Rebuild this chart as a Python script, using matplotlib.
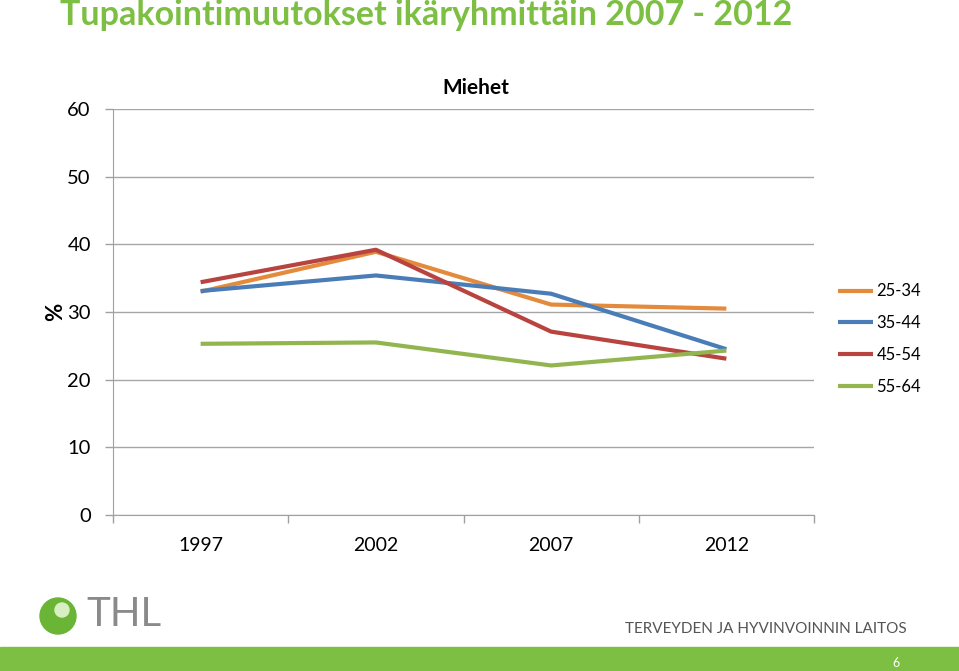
import matplotlib.pyplot as plt
from matplotlib.patches import Rectangle, Ellipse

# data
years = ['1997', '2002', '2007', '2012']
groups = ['25-34', '35-44', '45-54', '55-64']
age_25_34 = [33.0, 38.9, 31.1, 30.5]
age_35_44 = [33.1, 35.4, 32.7, 24.5]
age_45_54 = [34.4, 39.2, 27.1, 23.1]
age_55_64 = [25.3, 25.5, 22.1, 24.3]
colors = ['#E38A3C', '#4A7DB8', '#B8433F', '#93B550']

plt.rcParams['font.family'] = ['Lato', 'DejaVu Sans']

fig = plt.figure(figsize=(9.59, 6.71), dpi=100)
ax = fig.add_axes([113 / 959, 1 - 515 / 671, 701 / 959, 406 / 671])

series = [age_25_34, age_35_44, age_45_54, age_55_64]
x = range(len(years))
for vals, name, c in zip(series, groups, colors):
    ax.plot(x, vals, color=c, lw=3, label=name, solid_capstyle='butt')

ax.set_xlim(-0.5, 3.5)
ax.set_ylim(0, 60)
ax.set_yticks(range(0, 61, 10))
ax.tick_params(axis='y', labelsize=14.5, colors='#a0a0a0', labelcolor='black',
               length=6, width=1, pad=10)
ax.grid(axis='y', color='#a6a6a6', lw=1)
ax.set_axisbelow(True)

# category axis: ticks between categories, labels centred
ax.set_xticks([-0.5, 0.5, 1.5, 2.5, 3.5])
ax.set_xticklabels([])
ax.set_xticks(list(x), minor=True)
ax.set_xticklabels(years, minor=True, fontsize=14)
ax.tick_params(axis='x', which='major', direction='out', length=6,
               color='#a0a0a0', width=1)
ax.tick_params(axis='x', which='minor', length=0, pad=16)

for s in ['top', 'right']:
    ax.spines[s].set_visible(False)
for s in ['left', 'bottom']:
    ax.spines[s].set_color('#a0a0a0')

ax.set_ylabel('%', fontsize=16, fontweight='bold', labelpad=1)
fig.text(476 / 959, 1 - 88 / 671, 'Miehet', fontsize=15, fontweight='bold',
         ha='center', va='center')

ax.legend(loc='center left', bbox_to_anchor=(1.013, 0.433), frameon=False,
          fontsize=12, handlelength=2.1, handletextpad=0.2, labelspacing=0.95)

# slide title
fig.text(60 / 959, 1 - 15 / 671, 'Tupakointimuutokset ikäryhmittäin 2007 - 2012',
         color='#7CBF42', fontsize=24.5, fontweight='bold', va='center', ha='left')

# footer
fig.patches.append(Rectangle((0, 0), 1, 24 / 671, transform=fig.transFigure,
                             color='#7CBF42', zorder=0))
fig.text(896 / 959, 1 - 663 / 671, '6', color='white', fontsize=9,
         ha='center', va='center')
fig.text(907 / 959, 1 - 629 / 671, 'TERVEYDEN JA HYVINVOINNIN LAITOS',
         color='#555555', fontsize=11, ha='right', va='center')
fig.text(86 / 959, 1 - 615 / 671, 'THL', color='#8a8a8a', fontsize=29,
         ha='left', va='center')
fig.patches.append(Ellipse((58 / 959, 1 - 616 / 671), 36 / 959, 36 / 671,
                           transform=fig.transFigure, color='#6BB536', zorder=2))
fig.patches.append(Ellipse((62 / 959, 1 - 610 / 671), 14 / 959, 14 / 671,
                           transform=fig.transFigure, color='#D8EFC4', zorder=3))

fig.savefig('out.png', dpi=100)
